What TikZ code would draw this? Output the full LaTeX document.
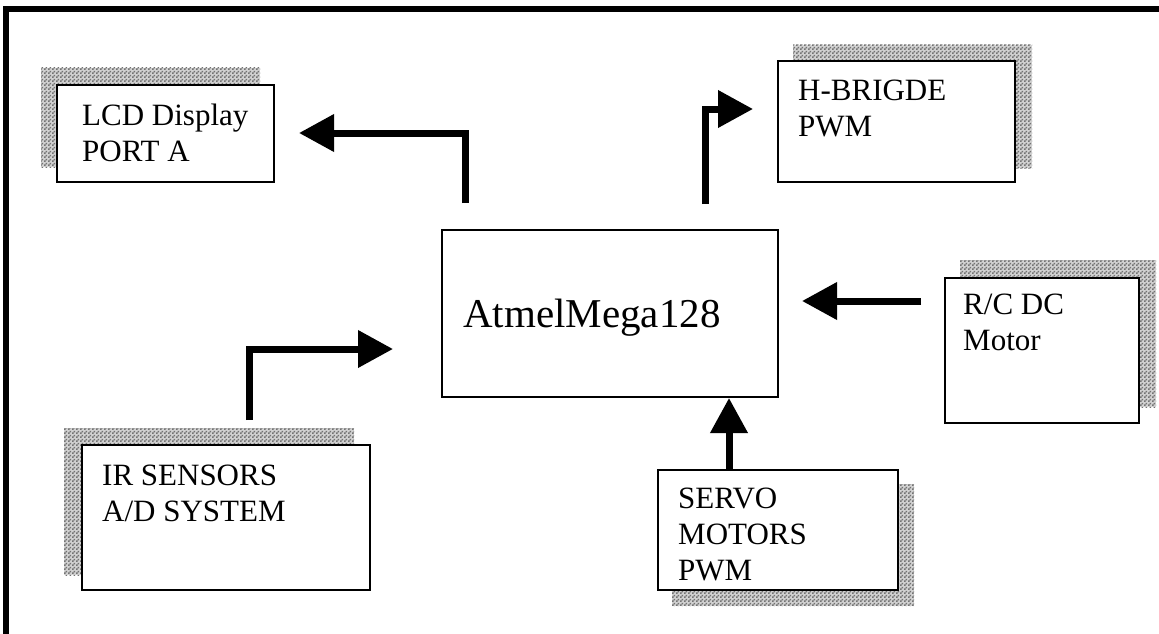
\documentclass[tikz,border=0pt]{standalone}
\usepackage{fontspec}
\setmainfont{Liberation Serif}
\usetikzlibrary{arrows.meta,patterns}
\pgfdeclarelayer{background}
\pgfsetlayers{background,main}
\pgfdeclarepatternformonly{checker}{\pgfpointorigin}{\pgfpoint{4pt}{4pt}}{\pgfpoint{4pt}{4pt}}{%
  \pgfpathrectangle{\pgfpointorigin}{\pgfpoint{2pt}{2pt}}%
  \pgfpathrectangle{\pgfpoint{2pt}{2pt}}{\pgfpoint{2pt}{2pt}}%
  \pgfusepath{fill}}
\tikzset{
  blk/.style={draw=black, line width=2pt, fill=white, inner sep=0pt, anchor=north west},
  shadowfill/.style={fill=black!18, postaction={pattern=checker, pattern color=black!55}},
  lbl/.style={anchor=base west, inner sep=0pt, font=\fontsize{31}{36}\selectfont},
  conn/.style={line width=7pt, line join=miter, -{Triangle[length=35pt,width=36pt]}},
  frame/.style={line width=6pt, line join=miter},
}
\begin{document}
\begin{tikzpicture}[x=1pt,y=-1pt]
\useasboundingbox (0,0) rectangle (1159,634);
% outer frame (top and left only)
\draw[frame] (5.5,634) -- (5.5,9) -- (1159,9);

% boxes
\node[blk, minimum width=217pt, minimum height=97pt]  (lcd)   at (56,84)   {};
\node[blk, minimum width=237pt, minimum height=121pt] (hb)    at (777,60)  {};
\node[blk, minimum width=336pt, minimum height=167pt] (main)  at (441,229) {};
\node[blk, minimum width=194pt, minimum height=145pt] (rc)    at (944,277) {};
\node[blk, minimum width=288pt, minimum height=145pt] (ir)    at (81,444)  {};
\node[blk, minimum width=240pt, minimum height=120pt] (servo) at (657,469) {};

% shadows
\begin{pgfonlayer}{background}
\fill[shadowfill] ([shift={(-15,-16)}]lcd.north west) rectangle ([shift={(-15,-16)}]lcd.south east);
\fill[shadowfill] ([shift={(16,-15)}]hb.north west) rectangle ([shift={(16,-15)}]hb.south east);
\fill[shadowfill] ([shift={(16,-17)}]rc.north west) rectangle ([shift={(16,-17)}]rc.south east);
\fill[shadowfill] ([shift={(-17,-16)}]ir.north west) rectangle ([shift={(-17,-16)}]ir.south east);
\fill[shadowfill] ([shift={(15,15)}]servo.north west) rectangle ([shift={(15,15)}]servo.south east);
\end{pgfonlayer}

% labels
\node[lbl] (lcdtxt) at (82,125) {\begin{tabular}[t]{@{}l@{}}LCD Display\\PORT A\end{tabular}};
\node[lbl] (hbtxt) at (798,100) {\begin{tabular}[t]{@{}l@{}}H-BRIGDE\\PWM\end{tabular}};
\node[lbl, font=\fontsize{41}{48}\selectfont] (maintxt) at (463,327) {AtmelMega128};
\node[lbl] (rctxt) at (963,314) {\begin{tabular}[t]{@{}l@{}}R/C DC\\Motor\end{tabular}};
\node[lbl] (irtxt) at (102,485) {\begin{tabular}[t]{@{}l@{}}IR SENSORS\\A/D SYSTEM\end{tabular}};
\node[lbl] (servotxt) at (678,508) {\begin{tabular}[t]{@{}l@{}}SERVO\\MOTORS\\PWM\end{tabular}};

% connector end points
\coordinate (lcdS) at (465,203);   \coordinate (lcdT) at (299,133);
\coordinate (hbS) at (705,204);    \coordinate (hbT) at (753,109);
\coordinate (irS) at (249,420);    \coordinate (irT) at (393,349);
\coordinate (rcS) at (921,301);    \coordinate (rcT) at (802,301);
\coordinate (servoS) at (729,469); \coordinate (servoT) at (729,398);

% connectors
\draw[conn] (lcdS) |- (lcdT);
\draw[conn] (hbS) |- (hbT);
\draw[conn] (irS) |- (irT);
\draw[conn] (rcS) -- (rcT);
\draw[conn] (servoS) -- (servoT);
\end{tikzpicture}
\end{document}
